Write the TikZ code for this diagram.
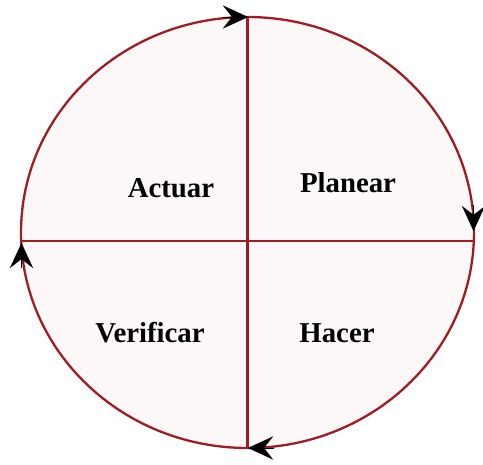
\documentclass[tikz,border=0pt]{standalone}
\usepackage{fontspec}
\setmainfont{Liberation Serif}
\usetikzlibrary{arrows.meta,calc}
\definecolor{rim}{HTML}{9E1C26}
\definecolor{inner}{HTML}{FDF8F8}
\tikzset{
  lbl/.style={font=\fontsize{28.8}{32}\selectfont\bfseries, text=black, inner sep=0pt},
  tipmark/.style={black, line width=0.1pt, -{Stealth[length=25pt,width=23pt,inset=9pt]}},
  rimline/.style={draw=rim, line width=2.3pt}
}
\begin{document}
\begin{tikzpicture}[x=1pt,y=-1pt]
\useasboundingbox (0,0) rectangle (483,465);
\coordinate (c) at (247.5,232.5);
\fill[inner] (c) ellipse [x radius=226.5, y radius=215.5];
\begin{scope}
  \clip (c) ellipse [x radius=226.5, y radius=215.5];
  \draw[rimline] (247.5,0) -- (247.5,465);
  \draw[rimline] (0,241) -- (483,241);
\end{scope}
\draw[rimline] (c) ellipse [x radius=226.5, y radius=215.5];
% arrowheads
\coordinate (t1) at (248,17);
\coordinate (t2) at (473.5,231);
\coordinate (t3) at (248,448);
\coordinate (t4) at (21.5,243);
\draw[tipmark] ($(t1)+(-25.5,0)$) -- (t1);
\draw[tipmark] ($(t2)+(0,-25.5)$) -- (t2);
\draw[tipmark] ($(t3)+(25.5,0)$) -- (t3);
\draw[tipmark] ($(t4)+(0,25.5)$) -- (t4);
\node[lbl] (a) at (171,188) {Actuar};
\node[lbl] (p) at (348,183) {Planear};
\node[lbl] (v) at (150,333) {Verificar};
\node[lbl] (h) at (337,333) {Hacer};
\end{tikzpicture}
\end{document}
